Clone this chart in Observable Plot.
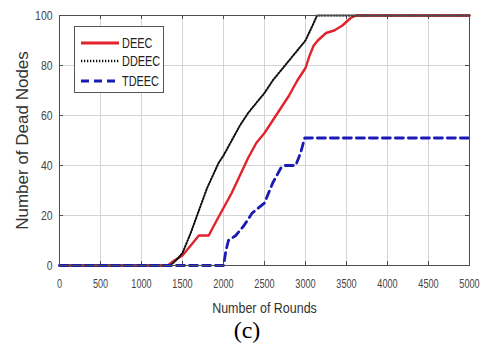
<!DOCTYPE html>
<html><head><meta charset="utf-8">
<script src="https://cdn.jsdelivr.net/npm/d3@7"></script>
<script src="https://cdn.jsdelivr.net/npm/@observablehq/plot@0.6"></script>
<style>
body{margin:0;background:#fff;}
#wrap{position:relative;width:485px;height:345px;overflow:hidden;}
#legend{position:absolute;left:74px;top:26px;width:88px;height:65px;border:1px solid #555;background:#fff;}
#caption{position:absolute;left:0;top:315px;width:494px;text-align:center;font-family:"Liberation Serif","Times New Roman",serif;font-size:24px;line-height:30px;color:#000;}
</style></head><body><div id="wrap"><div id="plot"></div><div id="legend"></div><div id="caption"></div></div>
<script>
const deecRounds = [0,1320,1400,1500,1600,1700,1820,1900,2000,2100,2200,2300,2400,2500,2600,2700,2800,2900,3000,3050,3100,3150,3250,3350,3450,3550,3620,5000];
const deecDead   = [0,0,2,4,8,12,12,17,23,29,36,43,49,53,58,63,68,74,79,84,88,90,93,94,96,99,100,100];
const ddeecRounds = [0,1350,1420,1500,1600,1700,1800,1940,2000,2100,2200,2300,2400,2500,2600,2700,2800,2900,3000,3100,3140,5000];
const ddeecDead   = [0,0,2,5,13,22,31,41,44,50,56,61,65,69,74,78,82,86,90,97,100,100];
const tdeecRounds = [0,2000,2030,2060,2150,2250,2350,2500,2600,2700,2750,2880,2940,2990,5000];
const tdeecDead   = [0,0,6,10,12,16,21,25,33,39,40,40,45,51,51];

const seriesNames = ["DEEC","DDEEC","TDEEC"];
const seriesColors = ["#e3222b","#111111","#1a1ab5"];
const seriesDash = [null,"1.3,1.7","8,5"];
const seriesWidth = [2.4,2.0,2.8];
const xTicks = d3.range(0,5001,500);
const yTicks = [0,20,40,60,80,100];
const xLabel = "Number of Rounds";
const yLabel = "Number of Dead Nodes";
const caption = "(c)";

const series = [
  {rounds: deecRounds, dead: deecDead},
  {rounds: ddeecRounds, dead: ddeecDead},
  {rounds: tdeecRounds, dead: tdeecDead}
];
const sans = '"Liberation Sans",Arial,sans-serif';

const lineMarks = series.map((s,i) => Plot.line(
  s.rounds.map((r,j)=>({round:r, dead:s.dead[j]})),
  {x:"round", y:"dead", stroke:seriesColors[i], strokeWidth:seriesWidth[i], strokeDasharray:seriesDash[i]}
));
const tickStroke = "#4d4d4d";

const chart = Plot.plot({
  width:485, height:320,
  marginLeft:59, marginRight:16, marginTop:15, marginBottom:55,
  style:{fontFamily:sans, background:"#fff", color:"#444"},
  x:{domain:[0,5000]},
  y:{domain:[0,100]},
  marks:[
    Plot.gridX(xTicks,{stroke:"#d4d4d4", strokeOpacity:1}),
    Plot.gridY(yTicks,{stroke:"#d4d4d4", strokeOpacity:1}),
    // inward tick marks (MATLAB style)
    Plot.ruleX(xTicks,{insetTop:246, stroke:tickStroke}),
    Plot.ruleX(xTicks,{insetBottom:246, stroke:tickStroke}),
    Plot.ruleY(yTicks,{insetRight:406, stroke:tickStroke}),
    Plot.ruleY(yTicks,{insetLeft:406, stroke:tickStroke}),
    ...lineMarks,
    Plot.frame({stroke:tickStroke}),
    Plot.axisX(xTicks,{tickSize:0, tickPadding:14, fontSize:12, label:null, tickFormat:d=>String(d)}),
    Plot.axisY(yTicks,{tickSize:0, tickPadding:7, fontSize:13, label:null, tickFormat:d=>String(d)}),
    Plot.text([xLabel],{frameAnchor:"bottom", lineAnchor:"middle", dy:43, fontSize:14.5, fill:"#333"}),
    Plot.text([yLabel],{frameAnchor:"left", textAnchor:"middle", rotate:-90, dx:-37, fontSize:17, fill:"#333"})
  ]
});
document.getElementById("plot").appendChild(chart);

// horizontally condensed text, as in the reference
function condense(nodes, factor){
  nodes.forEach(t=>{
    const w = t.getComputedTextLength();
    t.setAttribute("textLength", (w*factor).toFixed(1));
    t.setAttribute("lengthAdjust","spacingAndGlyphs");
  });
}
condense(chart.querySelectorAll('g[aria-label="x-axis tick label"] text'), 0.76);
condense(chart.querySelectorAll('g[aria-label="y-axis tick label"] text'), 0.8);
const txt = chart.querySelectorAll('g[aria-label="text"] text');
condense([txt[0]], 0.86);

// legend (text condensed with a transform)
const lg = d3.select("#legend").append("svg").attr("width",88).attr("height",65);
const rowsY = [16,34,54];
seriesNames.forEach((n,i)=>{
  lg.append("line").attr("x1",6).attr("x2",44).attr("y1",rowsY[i]).attr("y2",rowsY[i])
    .attr("stroke",seriesColors[i]).attr("stroke-width",seriesWidth[i]+0.4)
    .attr("stroke-dasharray",seriesDash[i]);
  lg.append("text").attr("transform",`translate(47,${rowsY[i]}) scale(0.78,1)`).attr("dy","0.35em")
    .attr("font-family",sans).attr("font-size",14).attr("fill","#222").text(n);
});
document.getElementById("caption").textContent = caption;
</script>
</body></html>
